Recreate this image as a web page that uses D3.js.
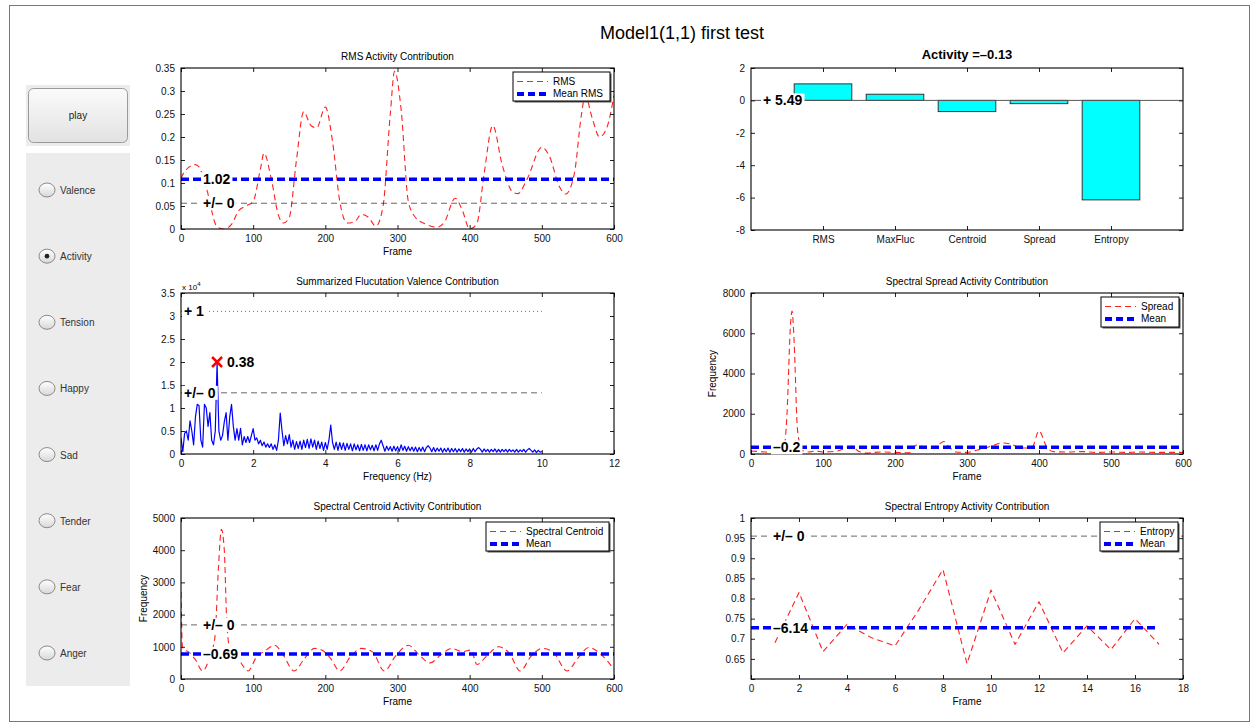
<!DOCTYPE html>
<html>
<head>
<meta charset="utf-8">
<script src="https://cdn.jsdelivr.net/npm/d3@7"></script>
<style>
  body { margin: 0; background: #fff; }
  svg { font-family: "Liberation Sans", Arial, Helvetica, sans-serif; }
</style>
</head>
<body>
<svg id="fig"></svg>
<script>
// RMS (frame, value)
const rmsFrames = [0, 5, 20, 25, 35, 50, 60, 70, 80, 90, 100, 110, 115, 125, 135, 142, 150, 160, 170, 180, 188, 200, 210, 220, 230, 240, 250, 260, 270, 280, 290, 296, 305, 315, 325, 340, 355, 365, 380, 390, 400, 410, 420, 432, 445, 460, 467, 480, 500, 510, 525, 533, 545, 555, 560, 570, 580, 590, 600];
const rmsValues = [0.11, 0.125, 0.14, 0.135, 0.09, 0.005, 0.0, 0.01, 0.04, 0.05, 0.06, 0.13, 0.165, 0.11, 0.03, 0.013, 0.025, 0.15, 0.255, 0.225, 0.22, 0.265, 0.19, 0.06, 0.013, 0.015, 0.032, 0.025, 0.006, 0.05, 0.25, 0.343, 0.26, 0.06, 0.025, 0.01, 0.004, 0.015, 0.067, 0.04, 0.0, 0.012, 0.12, 0.225, 0.14, 0.08, 0.077, 0.11, 0.178, 0.16, 0.09, 0.076, 0.12, 0.25, 0.29, 0.24, 0.20, 0.22, 0.29];
const rmsMean = 0.108;
const rmsBand = 0.056;

// contributions
const categories = ["RMS", "MaxFluc", "Centroid", "Spread", "Entropy"];
const contributions = [1.02, 0.38, -0.69, -0.2, -6.14];
const intercept = 5.49;
const activity = -0.13;

// fluctuation spectrum, x 10^4, every 0.05 Hz from 0 to 10
const fluctStep = 0.05;
const fluctValues = [
  0.35, 0.05, 0.45, 0.5, 0.3, 0.72, 0.5, 0.2, 0.8, 1.08, 1.05, 0.3, 0.15, 1.08, 1.0, 0.6, 0.9, 0.3, 0.2, 0.5,
  1.98, 0.5, 0.3, 0.4, 0.7, 0.9, 0.3, 0.8, 1.08, 0.6, 0.3, 0.55, 0.3, 0.56, 0.2, 0.38, 0.25, 0.38, 0.25, 0.4,
  0.55, 0.3, 0.35, 0.22, 0.3, 0.18, 0.26, 0.15, 0.22, 0.14, 0.22, 0.1, 0.2, 0.08, 0.3, 0.89, 0.5, 0.18, 0.4, 0.22,
  0.42, 0.15, 0.3, 0.1, 0.27, 0.12, 0.28, 0.1, 0.3, 0.14, 0.32, 0.12, 0.33, 0.15, 0.3, 0.1, 0.28, 0.12, 0.26, 0.08,
  0.25, 0.1, 0.3, 0.63, 0.25, 0.1, 0.26, 0.08, 0.25, 0.1, 0.24, 0.08, 0.23, 0.1, 0.22, 0.07, 0.22, 0.09, 0.2, 0.07,
  0.21, 0.08, 0.2, 0.07, 0.2, 0.09, 0.19, 0.07, 0.2, 0.08, 0.22, 0.3, 0.18, 0.06, 0.17, 0.08, 0.16, 0.06, 0.17, 0.07,
  0.16, 0.06, 0.2, 0.08, 0.17, 0.06, 0.16, 0.07, 0.15, 0.06, 0.15, 0.05, 0.14, 0.06, 0.15, 0.05, 0.14, 0.18, 0.13, 0.05,
  0.14, 0.05, 0.13, 0.06, 0.13, 0.04, 0.12, 0.05, 0.13, 0.04, 0.12, 0.05, 0.12, 0.04, 0.11, 0.05, 0.12, 0.04, 0.11, 0.05,
  0.11, 0.04, 0.12, 0.05, 0.11, 0.14, 0.1, 0.04, 0.11, 0.05, 0.1, 0.04, 0.1, 0.05, 0.11, 0.04, 0.1, 0.04, 0.1, 0.05,
  0.1, 0.04, 0.1, 0.05, 0.09, 0.04, 0.1, 0.04, 0.09, 0.05, 0.1, 0.04, 0.09, 0.12, 0.08, 0.04, 0.09, 0.03, 0.08, 0.04,
  0.05
];
const fluctPeak = [1.0, 2.0];
const fluctZero = 1.33;
const fluctPlusOne = 3.1;

// spectral spread
const spreadFrames = [0, 20, 40, 45, 50, 55, 57, 60, 64, 67, 70, 80, 90, 100, 120, 140, 150, 160, 180, 200, 220, 230, 240, 250, 260, 268, 275, 285, 300, 315, 330, 350, 360, 375, 390, 400, 410, 420, 440, 460, 480, 500, 520, 540, 560, 580, 600];
const spreadValues = [150, 100, 50, 100, 2000, 6500, 7100, 5500, 1500, 600, 200, 100, 150, 100, 150, 380, 120, 50, 100, 80, 60, 450, 350, 300, 450, 620, 350, 100, 80, 200, 350, 550, 500, 300, 300, 1150, 400, 120, 100, 120, 80, 100, 80, 100, 80, 80, 80];
const spreadMean = 330;

// spectral centroid
const centroidFrames = [0, 2, 5, 10, 20, 30, 40, 47, 52, 56, 60, 63, 66, 70, 80, 93, 105, 115, 130, 140, 157, 170, 185, 195, 207, 220, 235, 250, 265, 282, 297, 315, 330, 345, 360, 375, 390, 402, 410, 425, 440, 455, 470, 485, 500, 515, 535, 550, 565, 580, 600];
const centroidValues = [2700, 1000, 900, 850, 600, 250, 700, 1300, 3500, 4650, 4000, 2000, 1100, 800, 600, 250, 700, 850, 1050, 800, 250, 600, 950, 900, 650, 250, 700, 950, 850, 250, 700, 1050, 750, 500, 750, 950, 850, 900, 450, 750, 1000, 800, 250, 700, 950, 850, 250, 650, 980, 800, 300];
const centroidMean = 780;
const centroidBand = 1680;

// spectral entropy
const entropyFrames = [1, 2, 3, 4, 5, 6, 7, 8, 9, 10, 11, 12, 13, 14, 15, 16, 17];
const entropyValues = [0.69, 0.815, 0.668, 0.736, 0.703, 0.682, 0.773, 0.872, 0.638, 0.821, 0.686, 0.792, 0.665, 0.732, 0.673, 0.75, 0.686];
const entropyMean = 0.7275;
const entropyBand = 0.955;

// tick labels
const rmsYTicks = [0, 0.05, 0.1, 0.15, 0.2, 0.25, 0.3, 0.35];
const frameTicks = [0, 100, 200, 300, 400, 500, 600];
const barYTicks = [-8, -6, -4, -2, 0, 2];
const fluctXTicks = [0, 2, 4, 6, 8, 10, 12];
const fluctYTicks = [0, 0.5, 1, 1.5, 2, 2.5, 3, 3.5];
const spreadYTicks = [0, 2000, 4000, 6000, 8000];
const centroidYTicks = [0, 1000, 2000, 3000, 4000, 5000];
const entropyXTicks = [0, 2, 4, 6, 8, 10, 12, 14, 16, 18];
const entropyYTicks = [0.6, 0.65, 0.7, 0.75, 0.8, 0.85, 0.9, 0.95, 1];

const emotions = ["Valence", "Activity", "Tension", "Happy", "Sad", "Tender", "Fear", "Anger"];
const selected = "Activity";

const W = 1256, H = 725;
const svg = d3.select('#fig').attr('width', W).attr('height', H);

const RED = '#ff2020', BLUE = '#0000ff';

// figure frame + title
svg.append('rect')
    .attr('x', 9.5).attr('y', 5.5)
    .attr('width', 1240).attr('height', 716)
    .attr('fill', '#fff').attr('stroke', '#777');

svg.append('text')
    .attr('x', 682).attr('y', 39)
    .attr('text-anchor', 'middle')
    .attr('font-size', 18)
    .text('Model1(1,1) first test');

// ---- left control panel ----
const defs = svg.append('defs');
const btnGrad = defs.append('linearGradient').attr('id', 'btn').attr('x1', 0).attr('y1', 0).attr('x2', 0).attr('y2', 1);
btnGrad.append('stop').attr('offset', '0%').attr('stop-color', '#fbfbfb');
btnGrad.append('stop').attr('offset', '100%').attr('stop-color', '#e2e2e2');
const radGrad = defs.append('linearGradient').attr('id', 'rad').attr('x1', 0).attr('y1', 0).attr('x2', 0).attr('y2', 1);
radGrad.append('stop').attr('offset', '0%').attr('stop-color', '#ffffff');
radGrad.append('stop').attr('offset', '100%').attr('stop-color', '#d8d8d8');

svg.append('rect').attr('x', 26).attr('y', 85).attr('width', 104).attr('height', 61).attr('fill', '#ececec');
svg.append('rect')
    .attr('x', 28.5).attr('y', 88.5).attr('width', 99).attr('height', 54).attr('rx', 5)
    .attr('fill', 'url(#btn)').attr('stroke', '#9a9a9a');
svg.append('text')
    .attr('x', 78).attr('y', 119).attr('text-anchor', 'middle')
    .attr('font-size', 10).attr('fill', '#222').text('play');

svg.append('rect').attr('x', 26).attr('y', 153).attr('width', 104).attr('height', 533).attr('fill', '#ececec');

const radioY = d3.scalePoint().domain(emotions).range([190, 653]);
const radios = svg.append('g').selectAll('g').data(emotions).join('g')
    .attr('transform', d => `translate(47,${radioY(d)})`);
radios.append('ellipse')
    .attr('rx', 8).attr('ry', 7)
    .attr('fill', 'url(#rad)').attr('stroke', '#8a8a8a');
radios.filter(d => d === selected).append('circle')
    .attr('r', 2.3).attr('fill', '#222');
radios.append('text')
    .attr('x', 13).attr('y', 4)
    .attr('font-size', 10).attr('fill', '#333')
    .text(d => d);

// ---- helpers ----
let clipId = 0;
function panel(o) {
  const g = svg.append('g').attr('transform', `translate(${o.left},${o.top})`);
  const x = d3.scaleLinear().domain(o.xDomain).range([0, o.width]);
  const y = d3.scaleLinear().domain(o.yDomain).range([o.height, 0]);
  const id = 'clip' + (clipId++);
  g.append('clipPath').attr('id', id).append('rect').attr('width', o.width).attr('height', o.height);
  const plot = g.append('g').attr('clip-path', `url(#${id})`);

  const fmt = o.xFormat || (d => d);
  const bottom = g.append('g').attr('transform', `translate(0,${o.height})`)
      .call(d3.axisBottom(x).tickValues(o.xTicks).tickSize(-4).tickPadding(6).tickFormat(fmt));
  const top = g.append('g')
      .call(d3.axisTop(x).tickValues(o.xTicks).tickSize(-4).tickFormat(''));
  const left = g.append('g')
      .call(d3.axisLeft(y).tickValues(o.yTicks).tickSize(-4).tickPadding(6).tickFormat(o.yFormat || (d => d)));
  const right = g.append('g').attr('transform', `translate(${o.width},0)`)
      .call(d3.axisRight(y).tickValues(o.yTicks).tickSize(-4).tickFormat(''));
  [bottom, top, left, right].forEach(a => {
    a.select('.domain').remove();
    a.selectAll('text').attr('font-size', 10).attr('fill', '#111').attr('font-family', null);
    a.selectAll('line').attr('stroke', '#222');
  });

  g.append('rect')
      .attr('width', o.width).attr('height', o.height)
      .attr('fill', 'none').attr('stroke', '#000').attr('stroke-width', 1.1);

  if (o.title) {
    g.append('text')
        .attr('x', o.width / 2).attr('y', o.titleBold ? -9 : -8)
        .attr('text-anchor', 'middle')
        .attr('font-size', o.titleBold ? 13 : 10)
        .attr('font-weight', o.titleBold ? 'bold' : null)
        .text(o.title);
  }
  if (o.xlabel) {
    g.append('text')
        .attr('x', o.width / 2).attr('y', o.height + 26)
        .attr('text-anchor', 'middle').attr('font-size', 10)
        .text(o.xlabel);
  }
  if (o.ylabel) {
    g.append('text')
        .attr('transform', `translate(${o.ylabelX},${o.height / 2}) rotate(-90)`)
        .attr('text-anchor', 'middle').attr('font-size', 10)
        .text(o.ylabel);
  }
  return { g, plot, x, y };
}

function hline(p, yv, x0, x1, style) {
  p.plot.append('line')
      .attr('x1', p.x(x0)).attr('x2', p.x(x1))
      .attr('y1', p.y(yv)).attr('y2', p.y(yv))
      .attr('stroke', style.color).attr('stroke-width', style.width)
      .attr('stroke-dasharray', style.dash)
      .attr('stroke-opacity', style.opacity || 1);
}

function tag(p, px, yv, txt) {
  const t = p.g.append('text')
      .attr('x', px).attr('y', p.y(yv) + 5)
      .attr('font-size', 14).attr('font-weight', 'bold')
      .text(txt);
  const b = t.node().getBBox();
  p.g.insert('rect', function() { return t.node(); })
      .attr('x', b.x - 2).attr('y', b.y + 1)
      .attr('width', b.width + 4).attr('height', b.height - 2)
      .attr('fill', '#fff');
}

function legend(p, lx, ly, lw, lh, items) {
  const lg = p.g.append('g').attr('transform', `translate(${lx},${ly})`);
  lg.append('rect').attr('x', 1.5).attr('y', 1.5).attr('width', lw).attr('height', lh).attr('fill', '#555');
  lg.append('rect').attr('width', lw).attr('height', lh).attr('fill', '#fff').attr('stroke', '#000').attr('stroke-width', 1);
  items.forEach((it, i) => {
    const cy = 9.5 + i * 12;
    lg.append('line')
        .attr('x1', 4).attr('x2', 35).attr('y1', cy).attr('y2', cy)
        .style('stroke', it.color).style('stroke-width', it.width)
        .style('stroke-dasharray', it.dash)
        .attr('shape-rendering', 'crispEdges');
    lg.append('text').attr('x', 40).attr('y', cy + 3.5).attr('font-size', 10).text(it.label);
  });
}

const redDash = { color: RED, width: 1.1, dash: '6,4' };
const blueDash = { color: BLUE, width: 3.5, dash: '8,4' };
const blackDash = { color: '#000', width: 0.8, dash: '6,4', opacity: 0.75 };
const blackDot = { color: '#000', width: 0.8, dash: '1,3', opacity: 0.7 };

function curve(p, xs, ys, style, c) {
  const pts = xs.map((v, i) => [v, ys[i]]);
  p.plot.append('path')
      .attr('d', d3.line().x(d => p.x(d[0])).y(d => p.y(d[1])).curve(c || d3.curveLinear)(pts))
      .attr('fill', 'none')
      .attr('stroke', style.color).attr('stroke-width', style.width)
      .attr('stroke-dasharray', style.dash || null)
      .attr('stroke-linejoin', 'round');
}

// ---- RMS panel ----
const p1 = panel({ left: 181, top: 68, width: 433, height: 161,
  xDomain: [0, 600], yDomain: [0, 0.35], xTicks: frameTicks, yTicks: rmsYTicks,
  title: 'RMS Activity Contribution', xlabel: 'Frame' });
curve(p1, rmsFrames, rmsValues, redDash, d3.curveMonotoneX);
hline(p1, rmsMean, 0, 600, blueDash);
hline(p1, rmsBand, 0, 600, blackDash);
tag(p1, 22, rmsMean, '1.02');
tag(p1, 22, rmsBand, '+/– 0');
legend(p1, 332, 4, 97, 29, [
  { label: 'RMS', color: RED, width: 1, dash: '6,4' },
  { label: 'Mean RMS', color: BLUE, width: 4, dash: '7,4' }
]);

// ---- contributions bar panel ----
const p2 = panel({ left: 751, top: 68, width: 432, height: 162,
  xDomain: [0, 6], yDomain: [-8, 2], xTicks: [1, 2, 3, 4, 5], yTicks: barYTicks,
  xFormat: (d, i) => categories[i],
  title: 'Activity =' + d3.format('.2f')(activity).replace('−', '–'), titleBold: true });
p2.plot.selectAll('rect.bar').data(contributions).join('rect')
    .attr('class', 'bar')
    .attr('x', (d, i) => p2.x(i + 1 - 0.4))
    .attr('width', p2.x(0.8) - p2.x(0))
    .attr('y', d => p2.y(Math.max(0, d)))
    .attr('height', d => Math.abs(p2.y(d) - p2.y(0)))
    .attr('fill', '#00ffff').attr('stroke', '#333').attr('stroke-width', 1);
hline(p2, 0, 0, 6, { color: '#555', width: 1, dash: null });
tag(p2, 12, 0, '+ ' + intercept.toFixed(2));

// ---- fluctuation panel ----
const p3 = panel({ left: 181, top: 293, width: 433, height: 161,
  xDomain: [0, 12], yDomain: [0, 3.5], xTicks: fluctXTicks, yTicks: fluctYTicks,
  title: 'Summarized Flucutation Valence Contribution', xlabel: 'Frequency (Hz)' });
const fx = fluctValues.map((d, i) => i * fluctStep);
curve(p3, fx, fluctValues, { color: BLUE, width: 1.2 });
hline(p3, fluctPlusOne, 0, 10, blackDot);
hline(p3, fluctZero, 0, 10, blackDash);
const ex = p3.x(fluctPeak[0]), ey = p3.y(fluctPeak[1]);
p3.g.append('path')
    .attr('d', `M${ex - 5},${ey - 5}L${ex + 5},${ey + 5}M${ex - 5},${ey + 5}L${ex + 5},${ey - 5}`)
    .attr('stroke', '#ff0000').attr('stroke-width', 2.5).attr('fill', 'none');
p3.g.append('text').attr('x', ex + 10).attr('y', ey + 5)
    .attr('font-size', 14).attr('font-weight', 'bold').text('0.38');
tag(p3, 3, fluctPlusOne, '+ 1');
tag(p3, 3, fluctZero, '+/– 0');
const ex4 = p3.g.append('text').attr('x', 1).attr('y', -3).attr('font-size', 8).text('x 10');
ex4.append('tspan').attr('dy', -4).attr('font-size', 6).text('4');

// ---- spread panel ----
const p4 = panel({ left: 751, top: 293, width: 432, height: 161,
  xDomain: [0, 600], yDomain: [0, 8000], xTicks: frameTicks, yTicks: spreadYTicks,
  title: 'Spectral Spread Activity Contribution', xlabel: 'Frame', ylabel: 'Frequency', ylabelX: -35 });
curve(p4, spreadFrames, spreadValues, redDash, d3.curveMonotoneX);
hline(p4, spreadMean, 0, 600, blueDash);
tag(p4, 22, spreadMean, '–0.2');
legend(p4, 350, 4, 78, 30, [
  { label: 'Spread', color: RED, width: 1, dash: '6,4' },
  { label: 'Mean', color: BLUE, width: 4, dash: '7,4' }
]);

// ---- centroid panel ----
const p5 = panel({ left: 181, top: 518, width: 433, height: 161,
  xDomain: [0, 600], yDomain: [0, 5000], xTicks: frameTicks, yTicks: centroidYTicks,
  title: 'Spectral Centroid Activity Contribution', xlabel: 'Frame', ylabel: 'Frequency', ylabelX: -34 });
curve(p5, centroidFrames, centroidValues, redDash, d3.curveMonotoneX);
hline(p5, centroidBand, 0, 600, blackDash);
hline(p5, centroidMean, 0, 600, blueDash);
tag(p5, 22, centroidBand, '+/– 0');
tag(p5, 22, centroidMean, '–0.69');
legend(p5, 305, 4, 123, 29, [
  { label: 'Spectral Centroid', color: RED, width: 1, dash: '6,4' },
  { label: 'Mean', color: BLUE, width: 4, dash: '7,4' }
]);

// ---- entropy panel ----
const p6 = panel({ left: 751, top: 518, width: 432, height: 161,
  xDomain: [0, 18], yDomain: [0.6, 1], xTicks: entropyXTicks, yTicks: entropyYTicks,
  yFormat: d => d === 0.6 ? '' : d,
  title: 'Spectral Entropy Activity Contribution', xlabel: 'Frame' });
curve(p6, entropyFrames, entropyValues, redDash);
hline(p6, entropyBand, 0, 18, blackDash);
hline(p6, entropyMean, 0, 17, blueDash);
tag(p6, 22, entropyBand, '+/– 0');
tag(p6, 22, entropyMean, '–6.14');
legend(p6, 349, 4, 78, 29, [
  { label: 'Entropy', color: RED, width: 1, dash: '6,4' },
  { label: 'Mean', color: BLUE, width: 4, dash: '7,4' }
]);
</script>
</body>
</html>
